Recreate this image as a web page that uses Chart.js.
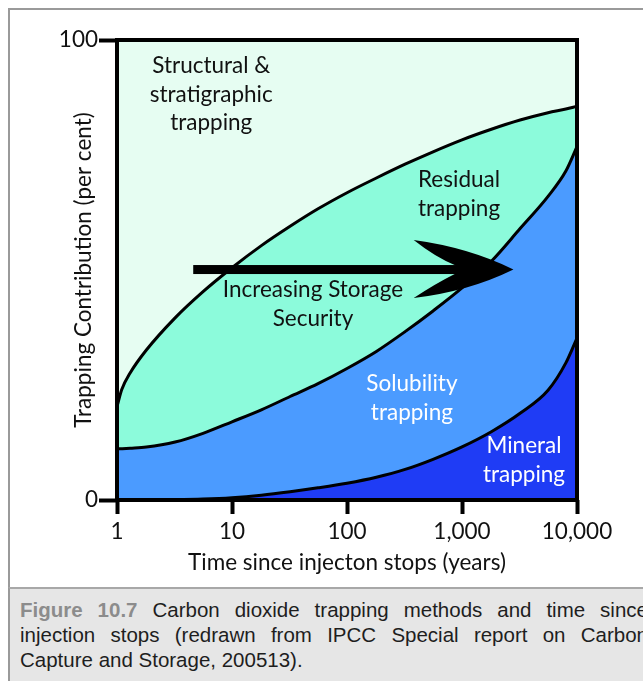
<!DOCTYPE html>
<html>
<head>
<meta charset="utf-8">
<script src="https://cdn.jsdelivr.net/npm/chart.js@4.4.1/dist/chart.umd.min.js"></script>
<style>
  html, body { margin: 0; padding: 0; background: #fff; width: 643px; height: 681px; overflow: hidden; }
  #frame { position: absolute; left: 8px; top: 8px; width: 700px; height: 700px; border: 2px solid #9a9a9a; box-sizing: border-box; background: #fff; }
  #wrap { position: absolute; left: 0; top: 0; width: 643px; height: 588px; }
  #caption { position: absolute; left: 8px; top: 587px; width: 700px; height: 120px; background: #e6e6e6; border-top: 2px solid #a8a8a8; border-left: 2px solid #9a9a9a; box-sizing: border-box; }
  #caption div { margin-left: 10px; width: 628px; font: 20.5px "Liberation Sans", Arial, sans-serif; line-height: 25px; color: #1e1e1e; text-align: justify; white-space: nowrap; }
  #caption div.j { text-align-last: justify; white-space: normal; }
  #caption div:first-child { margin-top: 8px; }
  #caption b { color: #8c8c8c; }
</style>
</head>
<body>
<div id="frame"></div>
<div id="wrap"><canvas id="trapChart" width="643" height="588"></canvas></div>
<div id="caption">
  <div class="j"><b>Figure 10.7</b> Carbon dioxide trapping methods and time since</div>
  <div class="j">injection stops (redrawn from IPCC Special report on Carbon</div>
  <div>Capture and Storage, 200513).</div>
</div>
<script>
// time since injection stops (years) and cumulative trapping boundaries (per cent)
const years = [1, 1.1, 1.3, 1.8, 3.2, 5.6, 10, 18, 32, 56, 100, 180, 320, 560, 1000, 1800, 3200, 5600, 8000, 10000];
const mineralTop    = [0, 0, 0, 0.02, 0.07, 0.2, 0.5, 1.05, 1.8, 2.65, 3.65, 4.95, 6.65, 8.85, 11.55, 14.85, 18.85, 23.85, 29.8, 35.2];
const solubilityTop = [11.1, 11.15, 11.25, 11.5, 12.6, 14.5, 17.0, 19.6, 22.5, 25.3, 28.6, 32.3, 36.6, 41.1, 46.1, 51.9, 59.0, 66.0, 71.5, 76.8];
const residualTop   = [20.3, 24, 27.6, 32.6, 39.6, 45.3, 50.5, 55.3, 59.5, 63.3, 66.8, 70.0, 73.0, 75.7, 78.3, 80.6, 82.6, 84.2, 85.0, 85.6];
const structuralTop = years.map(() => 100);
const xTicks = [1, 10, 100, 1000, 10000];
const yTicks = [0, 100];

// text inside the plot, anchored in years / per cent
const areaLabels = [
  { lines: ['Structural &', 'stratigraphic', 'trapping'], t: 6.6, p: 94.3, color: '#111' },
  { lines: ['Residual', 'trapping'], t: 942, p: 69.6, color: '#111' },
  { lines: ['Increasing Storage', 'Security'], t: 50.6, p: 45.7, color: '#111' },
  { lines: ['Solubility', 'trapping'], t: 367, p: 25.2, color: '#fff' },
  { lines: ['Mineral', 'trapping'], t: 3460, p: 11.7, color: '#fff' }
];

const pts = arr => years.map((t, i) => ({ x: t, y: arr[i] }));
const font = 'Lato';
const fsize = 22.5;

const extras = {
  id: 'extras',
  afterDatasetsDraw(chart) {
    const { ctx, chartArea: a, scales: { x, y } } = chart;
    ctx.save();
    // frame
    ctx.strokeStyle = '#000';
    ctx.lineWidth = 4;
    ctx.strokeRect(a.left, a.top, a.right - a.left, a.bottom - a.top);

    // arrow
    const yc = y.getPixelForValue(50.1);
    const x0 = x.getPixelForValue(4.6);
    const tip = x.getPixelForValue(2800);
    const barb = x.getPixelForValue(380);
    const yTop = y.getPixelForValue(56.5), yBot = y.getPixelForValue(43.9);
    ctx.fillStyle = '#000';
    ctx.fillRect(x0, yc - 4.5, (barb + 45) - x0, 9);
    ctx.beginPath();
    ctx.moveTo(barb, yTop);
    ctx.quadraticCurveTo(barb + 55, yc - 22, tip, yc);
    ctx.quadraticCurveTo(barb + 55, yc + 22, barb, yBot);
    ctx.quadraticCurveTo(barb + 22, yc + 14, barb + 42, yc + 4);
    ctx.lineTo(barb + 42, yc - 4);
    ctx.quadraticCurveTo(barb + 22, yc - 12, barb, yTop);
    ctx.closePath();
    ctx.fill();

    // area labels
    ctx.font = fsize + 'px ' + font;
    ctx.textAlign = 'center';
    ctx.textBaseline = 'middle';
    areaLabels.forEach(l => {
      const cx = x.getPixelForValue(l.t);
      const cy = y.getPixelForValue(l.p);
      ctx.fillStyle = l.color;
      l.lines.forEach((s, i) => ctx.fillText(s, cx, cy + i * 28.5));
    });
    ctx.restore();
  }
};

const ctx = document.getElementById('trapChart');
new Chart(ctx, {
  type: 'line',
  data: {
    datasets: [
      { label: 'Mineral trapping', data: pts(mineralTop), fill: 'origin', backgroundColor: '#1f3cf5', borderColor: '#000', borderWidth: 3 },
      { label: 'Solubility trapping', data: pts(solubilityTop), fill: '-1', backgroundColor: '#4b9bff', borderColor: '#000', borderWidth: 3 },
      { label: 'Residual trapping', data: pts(residualTop), fill: '-1', backgroundColor: '#8cfbdb', borderColor: '#000', borderWidth: 3 },
      { label: 'Structural & stratigraphic trapping', data: pts(structuralTop), fill: '-1', backgroundColor: '#e6fdf2', borderWidth: 0 }
    ]
  },
  options: {
    responsive: false,
    animation: false,
    layout: { padding: { left: 60, top: 40, right: 66, bottom: 0 } },
    plugins: { legend: { display: false }, tooltip: { enabled: false } },
    elements: { point: { radius: 0 }, line: { cubicInterpolationMode: 'monotone' } },
    scales: {
      x: {
        type: 'logarithmic',
        min: 1, max: 10000,
        afterBuildTicks: s => { s.ticks = xTicks.map(v => ({ value: v })); },
        afterFit: s => { s.height = 88; },
        ticks: { callback: v => Number(v).toLocaleString('en-US'), font: { family: font, size: fsize }, color: '#111', padding: 4, maxRotation: 0, autoSkip: false },
        grid: { drawOnChartArea: false, tickLength: 14, tickWidth: 4, tickColor: '#000' },
        border: { display: false },
        title: { display: true, text: 'Time since injecton stops (years)', font: { family: font, size: fsize }, color: '#111', padding: { top: 0, bottom: 12 } }
      },
      y: {
        min: 0, max: 100,
        afterBuildTicks: s => { s.ticks = yTicks.map(v => ({ value: v })); },
        afterFit: s => { s.width = 57; },
        ticks: { font: { family: font, size: fsize }, color: '#111', padding: 1 },
        grid: { drawOnChartArea: false, tickLength: 18, tickWidth: 4, tickColor: '#000' },
        border: { display: false },
        title: { display: true, text: 'Trapping Contribution (per cent)', font: { family: font, size: fsize }, color: '#111', padding: { top: 10, bottom: 0 } }
      }
    }
  },
  plugins: [extras]
});
</script>
</body>
</html>
